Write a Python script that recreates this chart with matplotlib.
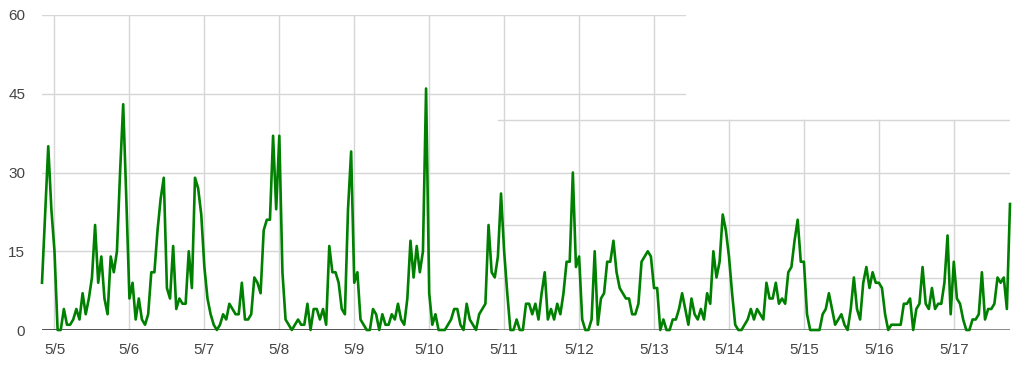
import numpy as np
import matplotlib
matplotlib.use("Agg")
import matplotlib.pyplot as plt

plt.rcParams['font.family'] = ['Liberation Sans', 'DejaVu Sans']

# hourly readings, starting 5/4 20:00 (hour -4 relative to 5/5 00:00)
start_hour = -4
values = [
    9, 22, 35, 23,
    15, 0, 0, 4, 1, 1, 2, 4, 2, 7, 3, 6, 10, 20, 9, 14, 6, 3, 14, 11, 15, 30, 43, 25,
    6, 9, 2, 6, 2, 1, 3, 11, 11, 19, 25, 29, 8, 6, 16, 4, 6, 5, 5, 15, 8, 29, 27, 22,
    12, 6, 3, 1, 0, 1, 3, 2, 5, 4, 3, 3, 9, 2, 2, 3, 10, 9, 7, 19, 21, 21, 37, 23,
    37, 11, 2, 1, 0, 1, 2, 1, 1, 5, 0, 4, 4, 2, 4, 1, 16, 11, 11, 9, 4, 3, 23, 34,
    9, 11, 2, 1, 0, 0, 4, 3, 0, 3, 1, 1, 3, 2, 5, 2, 1, 6, 17, 10, 16, 11, 15, 46,
    7, 1, 3, 0, 0, 0, 1, 2, 4, 4, 1, 0, 5, 2, 1, 0, 3, 4, 5, 20, 11, 10, 14, 26,
    15, 7, 0, 0, 2, 0, 0, 5, 5, 3, 5, 2, 7, 11, 2, 4, 2, 5, 3, 7, 13, 13, 30, 12,
    14, 2, 0, 0, 2, 15, 1, 6, 7, 13, 13, 17, 11, 8, 7, 6, 6, 3, 3, 5, 13, 14, 15, 14,
    8, 8, 0, 2, 0, 0, 2, 2, 4, 7, 4, 1, 6, 3, 2, 4, 2, 7, 5, 15, 10, 13, 22, 19,
    14, 7, 1, 0, 0, 1, 2, 4, 2, 4, 3, 2, 9, 6, 6, 9, 5, 6, 5, 11, 12, 17, 21, 13,
    13, 3, 0, 0, 0, 0, 3, 4, 7, 4, 1, 2, 3, 1, 0, 4, 10, 4, 2, 9, 12, 8, 11, 9,
    9, 8, 3, 0, 1, 1, 1, 1, 5, 5, 6, 0, 4, 5, 12, 5, 4, 8, 4, 5, 5, 9, 18, 3,
    13, 6, 5, 2, 0, 0, 2, 2, 3, 11, 2, 4, 4, 5, 10, 9, 10, 4, 24,
]
hours = np.arange(start_hour, start_hour + len(values))

day_labels = ['5/5', '5/6', '5/7', '5/8', '5/9', '5/10', '5/11',
              '5/12', '5/13', '5/14', '5/15', '5/16', '5/17']
day_hours = np.arange(len(day_labels)) * 24

y_ticks = [0, 15, 30, 45, 60]

fig = plt.figure(figsize=(10.24, 3.73), dpi=100)
ax = fig.add_axes([42 / 1024, 43 / 373, 968 / 1024, 315 / 373])
x0, x1 = hours[0], hours[-1]
ax.set_xlim(x0, x1)
ax.set_ylim(0, 60)

grid_c = '#d6d6d6'
split = 142      # where the lower panel of the screenshot begins
mid_end = 202

# grid, pieced together like the stitched screenshot
for v in [15, 30]:
    ax.plot([x0, split], [v, v], color=grid_c, lw=1, zorder=1)
for v in [45, 60]:
    ax.plot([x0, mid_end], [v, v], color=grid_c, lw=1, zorder=1)
for v in [10, 20, 30, 40]:
    ax.plot([split, x1], [v, v], color=grid_c, lw=1, zorder=1)
for d in day_hours:
    top = 60 if d <= 192 else 40
    ax.plot([d, d], [0, top], color=grid_c, lw=1, zorder=1)

ax.plot([x0, split], [0, 0], color='#333333', lw=1.2, zorder=2)
ax.plot([split, x1], [0, 0], color='#777777', lw=1.2, zorder=2)

ax.plot(hours, values, color='#008000', lw=1.9, zorder=3, clip_on=False)

ax.set_xticks(day_hours)
ax.set_xticklabels(day_labels)
ax.set_yticks(y_ticks)
ax.tick_params(axis='both', length=0, labelsize=11, labelcolor='#444444')
ax.tick_params(axis='x', pad=9)
ax.tick_params(axis='y', pad=12)
for s in ax.spines.values():
    s.set_visible(False)

fig.savefig('out.png', dpi=100)
